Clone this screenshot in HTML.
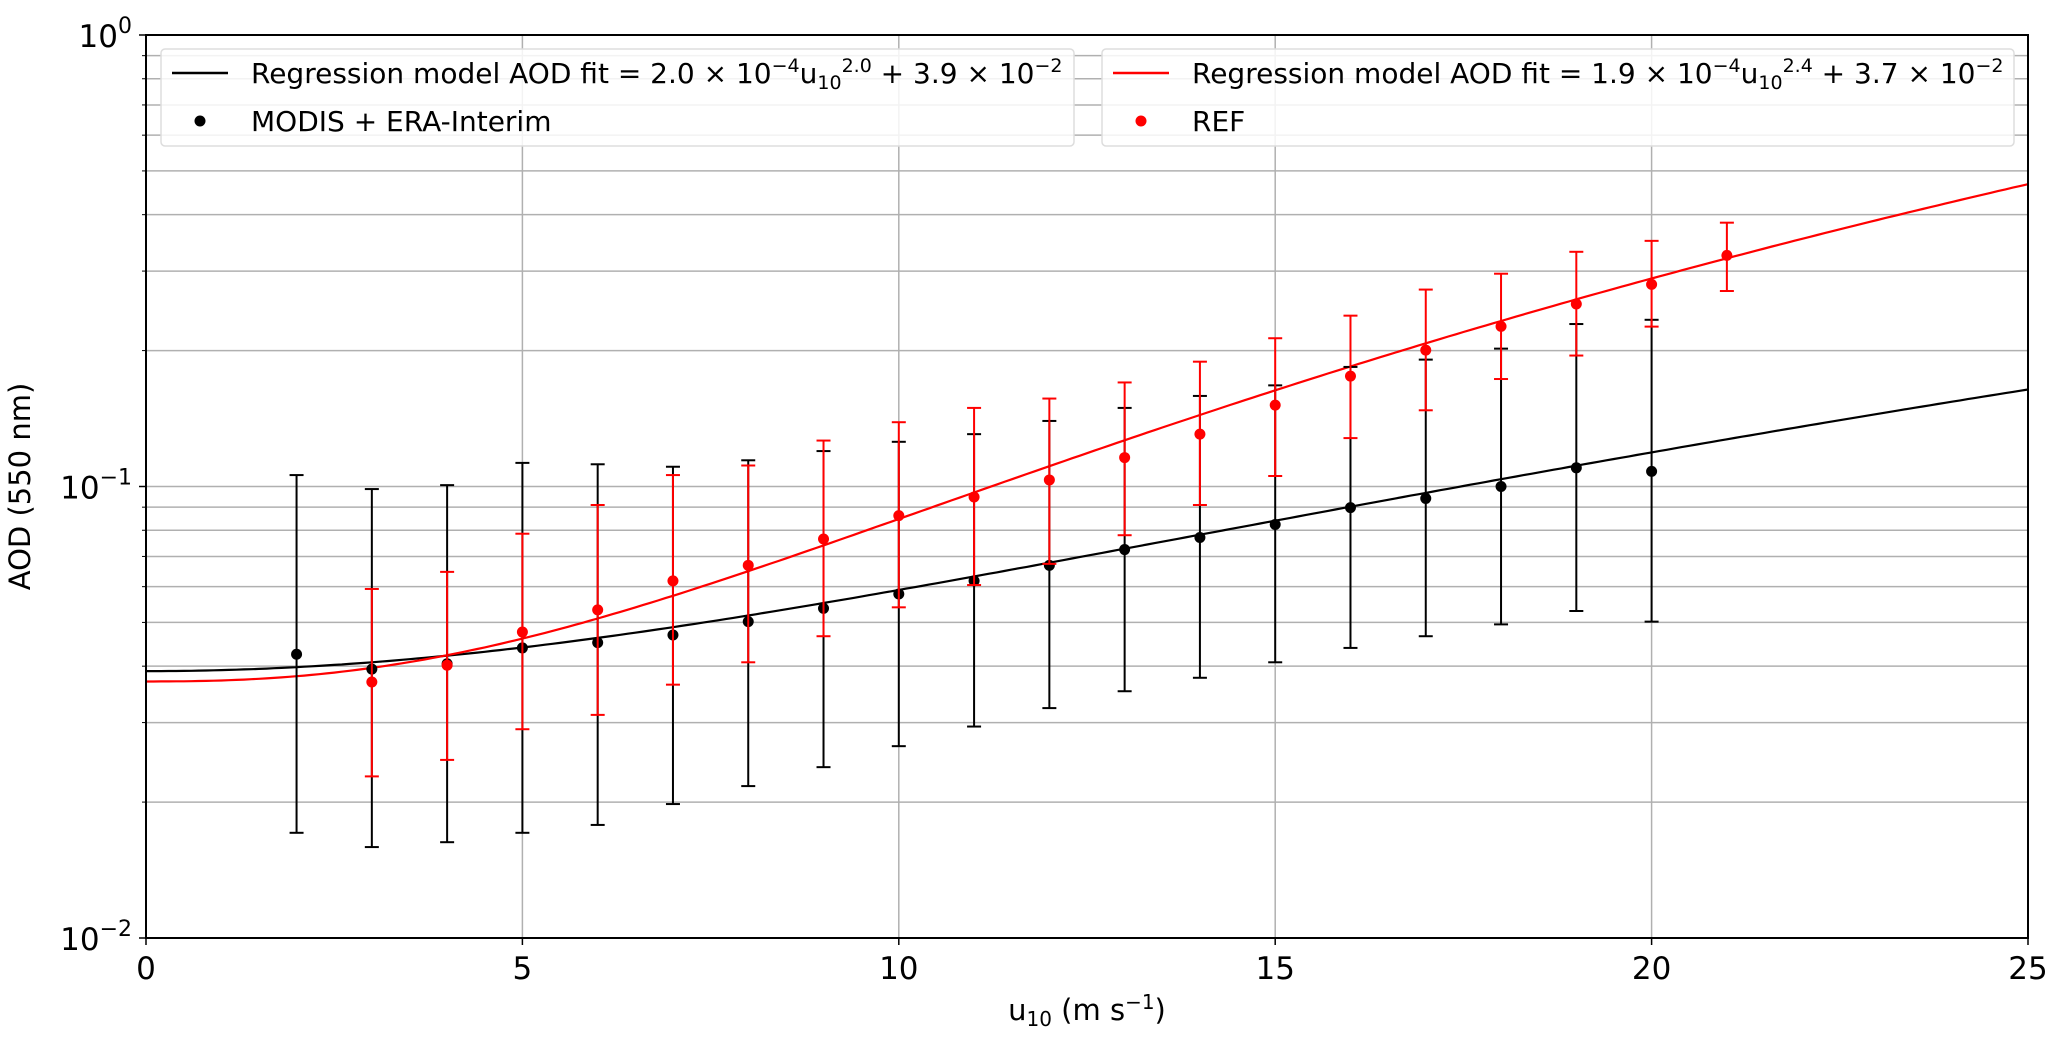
<!DOCTYPE html>
<html><head><meta charset="utf-8"><style>
body{margin:0;background:#fff}
svg{display:block;font-family:"DejaVu Sans","Liberation Sans",sans-serif}
</style></head><body>
<svg id="c" width="2067" height="1039"></svg>
<script>
const xs_black=[2,3,4,5,6,7,8,9,10,11,12,13,14,15,16,17,18,19,20];
const black_vals=[0.0425,0.0394,0.0405,0.0439,0.0451,0.0469,0.0502,0.0537,0.0578,0.0618,0.0669,0.0725,0.0771,0.0824,0.0898,0.0941,0.100,0.110,0.108];
const black_hi=[0.106,0.0987,0.1007,0.1128,0.112,0.1106,0.1143,0.1198,0.1256,0.1306,0.1397,0.1493,0.1587,0.1675,0.184,0.191,0.202,0.229,0.234];
const black_lo=[0.0171,0.0159,0.0163,0.0171,0.0178,0.0198,0.0217,0.0239,0.0266,0.0294,0.0323,0.0352,0.0377,0.0408,0.0439,0.0466,0.0495,0.0530,0.0502];
const xs_red=[3,4,5,6,7,8,9,10,11,12,13,14,15,16,17,18,19,20,21];
const red_vals=[0.0369,0.0402,0.0476,0.0533,0.0618,0.0669,0.0765,0.0862,0.0948,0.1034,0.1159,0.1306,0.1514,0.1756,0.2005,0.2263,0.2536,0.2803,0.325];
const red_hi=[0.0593,0.0647,0.0786,0.091,0.106,0.1113,0.1264,0.1388,0.1493,0.1566,0.170,0.189,0.213,0.239,0.273,0.296,0.331,0.350,0.384];
const red_lo=[0.0228,0.0248,0.029,0.0312,0.0364,0.0408,0.0466,0.054,0.0605,0.0674,0.078,0.091,0.1055,0.128,0.1475,0.173,0.195,0.226,0.271];
const black_fit=[2.0e-4,2.0,3.9e-2];
const red_fit=[1.9e-4,2.4,3.7e-2];
const x_ticks=[0,5,10,15,20,25];

const L=146,R=2028,T=35,B=938;
const sx=v=>L+(v-0)/25*(R-L);
const sy=v=>B-(Math.log10(v)+2)/2*(B-T);
const NS="http://www.w3.org/2000/svg";
const svg=document.getElementById('c');
function mk(tag,attrs,parent){const e=document.createElementNS(NS,tag);for(const k in attrs)e.setAttribute(k,attrs[k]);(parent||svg).appendChild(e);return e;}

const grid=mk('g',{});


x_ticks.forEach(t=>{mk('line',{x1:sx(t),x2:sx(t),y1:T,y2:B,stroke:'#b0b0b0','stroke-width':1.5},grid);});
for(let d=-2;d<0;d++)for(let m=1;m<10;m++){const v=m*Math.pow(10,d);if(v<=0.01)continue;mk('line',{x1:L,x2:R,y1:sy(v),y2:sy(v),stroke:'#b0b0b0','stroke-width':1.5},grid);}

function fit(p,col,name){let d='';for(let i=0;i<=250;i++){const x=i/10;const y=p[0]*Math.pow(x,p[1])+p[2];d+=(i?'L':'M')+sx(x).toFixed(1)+','+sy(y).toFixed(1);}
const e=mk('path',{d:d,fill:'none',stroke:col,'stroke-width':2.2});

}
fit(black_fit,'#000','black-fit-line');
fit(red_fit,'#f00','red-fit-line');

function series(xs,vals,lo,hi,col,name){const g=mk('g',{});


xs.forEach((x,i)=>{const X=sx(x);
mk('line',{x1:X,x2:X,y1:sy(lo[i]),y2:sy(hi[i]),stroke:col,'stroke-width':2},g);
mk('line',{x1:X-7,x2:X+7,y1:sy(lo[i]),y2:sy(lo[i]),stroke:col,'stroke-width':2},g);
mk('line',{x1:X-7,x2:X+7,y1:sy(hi[i]),y2:sy(hi[i]),stroke:col,'stroke-width':2},g);
const c=mk('circle',{cx:X,cy:sy(vals[i]),r:5.5,fill:col},g);

});}
series(xs_black,black_vals,black_lo,black_hi,'#000','modis-era-series');
series(xs_red,red_vals,red_lo,red_hi,'#f00','ref-series');

mk('rect',{x:L,y:T,width:R-L,height:B-T,fill:'none',stroke:'#000','stroke-width':2});
x_ticks.forEach(t=>{mk('line',{x1:sx(t),x2:sx(t),y1:B,y2:B+7,stroke:'#000','stroke-width':1.5});
const tx=mk('text',{x:sx(t),y:B+41,'font-size':31,'text-anchor':'middle'});tx.textContent=t;

});
for(let d=-2;d<=0;d++){mk('line',{x1:L-7,x2:L,y1:sy(Math.pow(10,d)),y2:sy(Math.pow(10,d)),stroke:'#000','stroke-width':1.5});
const tx=mk('text',{x:132,y:sy(Math.pow(10,d))+12,'font-size':31,'text-anchor':'end'});
tx.innerHTML='10<tspan dy="-14" font-size="22">'+(d<0?'\u2212'+(-d):'0')+'</tspan>';

}
for(let d=-2;d<0;d++)for(let m=2;m<10;m++){const v=m*Math.pow(10,d);mk('line',{x1:L-4,x2:L,y1:sy(v),y2:sy(v),stroke:'#000','stroke-width':1});}

const yl=mk('text',{x:0,y:0,'font-size':29,'text-anchor':'middle',transform:'translate(30,'+((T+B)/2)+') rotate(-90)'});yl.textContent='AOD (550 nm)';


const xl=mk('text',{x:(L+R)/2,y:1020,'font-size':29,'text-anchor':'middle'});
xl.innerHTML='u<tspan font-size="20" dy="6">10</tspan><tspan dy="-6"> (m s</tspan><tspan font-size="20" dy="-11">\u22121</tspan><tspan dy="11">)</tspan>';



function legend(x0,w,col,a,b,c,lab,name){const g=mk('g',{});


mk('rect',{x:x0,y:49,width:w,height:97,rx:4,fill:'#fff','fill-opacity':0.85,stroke:'#ddd','stroke-width':1.5},g);
mk('line',{x1:x0+11,x2:x0+67,y1:73,y2:73,stroke:col,'stroke-width':2.5},g);
mk('circle',{cx:x0+39,cy:121,r:5.5,fill:col},g);
const t=mk('text',{x:x0+90,y:83,'font-size':28},g);
t.innerHTML='Regression model AOD fit = '+a+' \u00d7 10<tspan dy="-11" font-size="19">\u22124</tspan><tspan dy="11">u</tspan><tspan dy="6" font-size="19">10</tspan><tspan dy="-17" font-size="19">'+b+'</tspan><tspan dy="11"> + '+c+' \u00d7 10</tspan><tspan dy="-11" font-size="19">\u22122</tspan>';
const t2=mk('text',{x:x0+90,y:131,'font-size':28},g);t2.textContent=lab;}
legend(161,913,'#000','2.0','2.0','3.9','MODIS + ERA-Interim','legend-modis');
legend(1102,912,'#f00','1.9','2.4','3.7','REF','legend-ref');
</script>
</body></html>
